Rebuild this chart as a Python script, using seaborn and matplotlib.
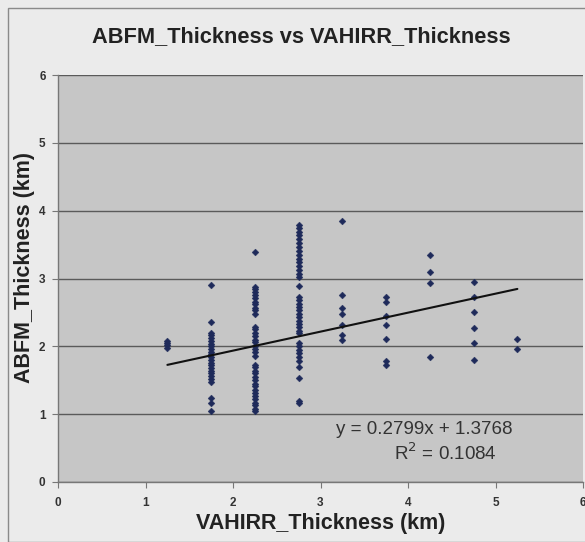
import matplotlib
matplotlib.use("Agg")
import matplotlib.pyplot as plt
import seaborn as sns
import pandas as pd
import numpy as np
from matplotlib.patches import Rectangle

# ---- data ----
x_levels = [1.25, 1.75, 2.25, 2.75, 3.25, 3.75, 4.25, 4.75, 5.25]
y_125 = [2.08, 2.05, 2.02, 1.98]
y_175 = [2.90, 2.36, 2.20, 2.16, 2.12, 2.08, 2.04, 2.00, 1.96, 1.92, 1.88, 1.84,
         1.80, 1.76, 1.72, 1.68, 1.64, 1.60, 1.56, 1.52, 1.48, 1.24, 1.17, 1.05]
y_225 = [3.39, 2.88, 2.84, 2.80, 2.76, 2.71, 2.66, 2.62, 2.57, 2.53, 2.48, 2.29,
         2.25, 2.20, 2.15, 2.10, 2.06, 2.01, 1.96, 1.91, 1.86, 1.73, 1.69, 1.64,
         1.60, 1.55, 1.50, 1.45, 1.41, 1.36, 1.31, 1.27, 1.22, 1.17, 1.13, 1.08, 1.04]
y_275 = [3.79, 3.74, 3.69, 3.64, 3.58, 3.52, 3.46, 3.41, 3.35, 3.29, 3.24, 3.18,
         3.12, 3.07, 3.02, 2.89, 2.73, 2.68, 2.63, 2.58, 2.53, 2.48, 2.43, 2.38,
         2.33, 2.28, 2.23, 2.19, 2.05, 2.00, 1.95, 1.90, 1.85, 1.78, 1.70, 1.53,
         1.20, 1.17]
y_325 = [3.85, 2.75, 2.57, 2.48, 2.31, 2.16, 2.09]
y_375 = [2.72, 2.66, 2.44, 2.31, 2.11, 1.78, 1.72]
y_425 = [3.35, 3.10, 2.94, 1.84]
y_475 = [2.95, 2.72, 2.51, 2.27, 2.05, 1.80]
y_525 = [2.11, 1.96]

slope = 0.2799
intercept = 1.3768
r_squared = 0.1084

x_ticks = [0, 1, 2, 3, 4, 5, 6]
y_ticks = [0, 1, 2, 3, 4, 5, 6]

title = "ABFM_Thickness vs VAHIRR_Thickness"
x_label = "VAHIRR_Thickness (km)"
y_label = "ABFM_Thickness (km)"

columns = [y_125, y_175, y_225, y_275, y_325, y_375, y_425, y_475, y_525]
rows = []
for xv, ys in zip(x_levels, columns):
    for yv in ys:
        rows.append({"VAHIRR": xv, "ABFM": yv})
df = pd.DataFrame(rows)

# ---- figure ----
sns.set_theme(style="white")
plt.rcParams["font.family"] = ["Liberation Sans", "DejaVu Sans"]

fig = plt.figure(figsize=(5.85, 5.42), dpi=100)
fig.patch.set_facecolor("#ebebeb")
fig.patches.append(Rectangle((8 / 585, 0.0), 1.0, 1 - 8 / 542, transform=fig.transFigure,
                             fill=False, edgecolor="#8a8a8a", linewidth=1.0))

ax = fig.add_axes([58 / 585, 1 - 482 / 542, (583 - 58) / 585, (482 - 75) / 542])
ax.set_facecolor("#c6c6c6")

sns.scatterplot(data=df, x="VAHIRR", y="ABFM", ax=ax, marker="D", s=12,
                color="#1e2a5a", edgecolor="#1e2a5a", linewidth=0.3, zorder=3)

xl = np.array([min(x_levels), max(x_levels)])
ax.plot(xl, slope * xl + intercept, color="#111111", linewidth=1.5, zorder=4)

ax.set_xlim(0, 6)
ax.set_ylim(0, 6)
ax.set_xticks(x_ticks)
ax.set_yticks(y_ticks)
ax.set_xticklabels([str(t) for t in x_ticks], fontsize=8.5, fontweight="bold", color="#333333")
ax.set_yticklabels([str(t) for t in y_ticks], fontsize=8.5, fontweight="bold", color="#333333")
ax.tick_params(axis="x", direction="out", length=4, width=0.8, color="#777777",
               bottom=True, pad=7)
ax.tick_params(axis="y", direction="out", length=4, width=0.8, color="#777777",
               left=True, pad=5)

ax.yaxis.grid(True, color="#5a5a5a", linewidth=1.0)
ax.set_axisbelow(True)
for side in ["top", "right"]:
    ax.spines[side].set_visible(False)
for side in ["left", "bottom"]:
    ax.spines[side].set_color("#777777")
    ax.spines[side].set_linewidth(1.0)

ax.set_xlabel(x_label, fontsize=15.5, fontweight="bold", color="#222222", labelpad=3)
ax.set_ylabel(y_label, fontsize=15.5, fontweight="bold", color="#222222")
ax.yaxis.set_label_coords(-0.043, 0.526)

fig.text(0.515, 1 - 37 / 542, title, ha="center", va="center", fontsize=15.7,
         fontweight="bold", color="#222222")

ax.text(4.18, 0.77, f"y = {slope}x + {intercept}", ha="center", va="center",
        fontsize=13.5, color="#333333")
ax.text(4.43, 0.43, f"R$^2$ = {r_squared}", ha="center", va="center",
        fontsize=13.5, color="#333333")

fig.savefig("out.png", dpi=100, facecolor=fig.get_facecolor())
